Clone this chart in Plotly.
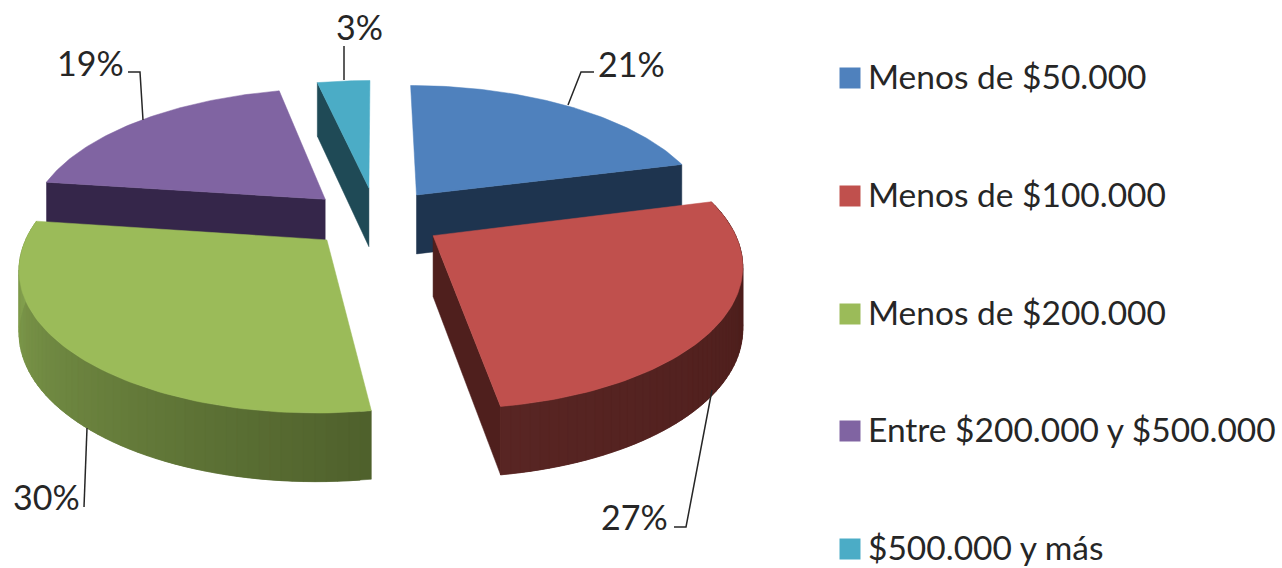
# Exploded 3D style pie of income brackets, projected by hand onto a pixel-sized axis
import numpy as np
import plotly.graph_objects as go

categories = ["Menos de $50.000", "Menos de $100.000", "Menos de $200.000",
              "Entre $200.000 y $500.000", "$500.000 y más"]
values = [21, 26.6, 29.55, 19.4, 3.45]
colors = ["#4f81bd", "#c0504d", "#9bbb59", "#8064a2", "#4bacc6"]
wall_colors = ["#1e344f", "#4f1f1d", "#35264a", "#35264a", "#1f4a56"]

W, H = 1282, 568
CX, CY, RX, RY, K = 376, 218, 296, 136, 0.175
EXPLODE = 0.23
DEPTH = 60
FONT = "Lato"
TEXT = "#262626"
# small per-slice corrections to the explosion offset (pixels on the pie plane) and radius
nudges = [(0, 1), (-1, 0), (0, -1), (-2, 2), (0, 0)]
radii = [1, 1, 0.99, 1, 1]


def project(u, v, drop=0.0):
    s = 1 / (1 - K * v)
    return CX + RX * u * s, CY + RY * v * s + drop * DEPTH * s ** 0.6


def poly(fig, pts, color):
    xs = [p[0] for p in pts] + [pts[0][0]]
    ys = [p[1] for p in pts] + [pts[0][1]]
    fig.add_trace(go.Scatter(x=xs, y=ys, mode="lines", fill="toself", fillcolor=color,
                             line=dict(color=color, width=0.5), hoverinfo="skip", showlegend=False))


def mix(c1, c2, t):
    a = [int(c1[i:i + 2], 16) for i in (1, 3, 5)]
    b = [int(c2[i:i + 2], 16) for i in (1, 3, 5)]
    return "rgb(%d,%d,%d)" % tuple(round(a[i] + (b[i] - a[i]) * t) for i in range(3))


fig = go.Figure()

edges = np.cumsum([0] + values) / sum(values) * 2 * np.pi
slices = []
for i in range(len(values)):
    mid = (edges[i] + edges[i + 1]) / 2
    slices.append(dict(i=i, t0=edges[i], t1=edges[i + 1], r=radii[i],
                       ou=EXPLODE * np.sin(mid) + nudges[i][0] / RX,
                       ov=-EXPLODE * np.cos(mid) + nudges[i][1] / RY))


def rim(s, t):
    return s["ou"] + s["r"] * np.sin(t), s["ov"] - s["r"] * np.cos(t)


# painter's order, back slices first
for idx, radial_at, wall_from, wall_to in [
    (4, "t0", None, None),
    (3, "t0", None, None),
    (0, "t1", None, None),
    (2, None, "#4f612c", "#87a551"),
    (1, "t1", "#4a1c1a", "#582523"),
]:
    s = slices[idx]
    apex = (s["ou"], s["ov"])
    # the radial wall facing the viewer
    if radial_at:
        edge = rim(s, s[radial_at])
        poly(fig, [project(*apex), project(*edge), project(*edge, 1), project(*apex, 1)], wall_colors[idx])
    # the curved outer wall, shaded in strips that overlap the next one to hide seams
    if wall_from:
        ts = np.linspace(s["t0"], s["t1"], 61)
        for n in range(60):
            p, q = rim(s, ts[n]), rim(s, ts[min(n + 2, 60)])
            poly(fig, [project(*p), project(*q), project(*q, 1), project(*p, 1)],
                 mix(wall_from, wall_to, n / 59))
    arc = [project(*rim(s, t)) for t in np.linspace(s["t0"], s["t1"], 80)]
    poly(fig, [project(*apex)] + arc, colors[idx])

# legend rows: swatch plus real text
legend_y = [78, 196, 314, 431, 549]
fig.add_trace(go.Scatter(x=[850] * len(categories), y=legend_y, mode="markers",
                         hoverinfo="skip", showlegend=False,
                         marker=dict(symbol="square", size=21, color=colors)))
fig.add_trace(go.Scatter(x=[868] * len(categories), y=[y + 3 for y in legend_y], mode="text", text=categories,
                         textposition="middle right", hoverinfo="skip", showlegend=False,
                         textfont=dict(family=FONT, size=33.5, color=TEXT)))

# percent labels and their leader lines
label_pos = [(631, 63), (634, 516), (46, 496), (90, 62), (359, 26)]
leaders = [
    [(568, 105), (581, 72), (594, 72)],
    [(712, 390), (686, 527), (674, 527)],
    [(87, 428), (84, 507)],
    [(143, 120), (140, 72), (128, 72)],
    [(344, 80), (344, 46)],
]
for i, v in enumerate(values):
    fig.add_annotation(x=label_pos[i][0], y=label_pos[i][1], text="%d%%" % round(v), showarrow=False,
                       font=dict(family=FONT, size=34, color=TEXT))
    path = "M" + " L".join("%d,%d" % p for p in leaders[i])
    fig.add_shape(type="path", path=path, line=dict(color="#262626", width=1.5))

fig.update_layout(
    width=W, height=H, margin=dict(l=0, r=0, t=0, b=0),
    paper_bgcolor="white", plot_bgcolor="white",
    xaxis=dict(range=[0, W], visible=False, fixedrange=True),
    yaxis=dict(range=[H, 0], visible=False, fixedrange=True),
    font=dict(family=FONT, color=TEXT),
)

# the page's default body margin would push the chart 8px down and right
fig.write_html("out.html", config=dict(displayModeBar=False),
               post_script="document.body.style.margin='0';document.body.style.overflow='hidden';")
